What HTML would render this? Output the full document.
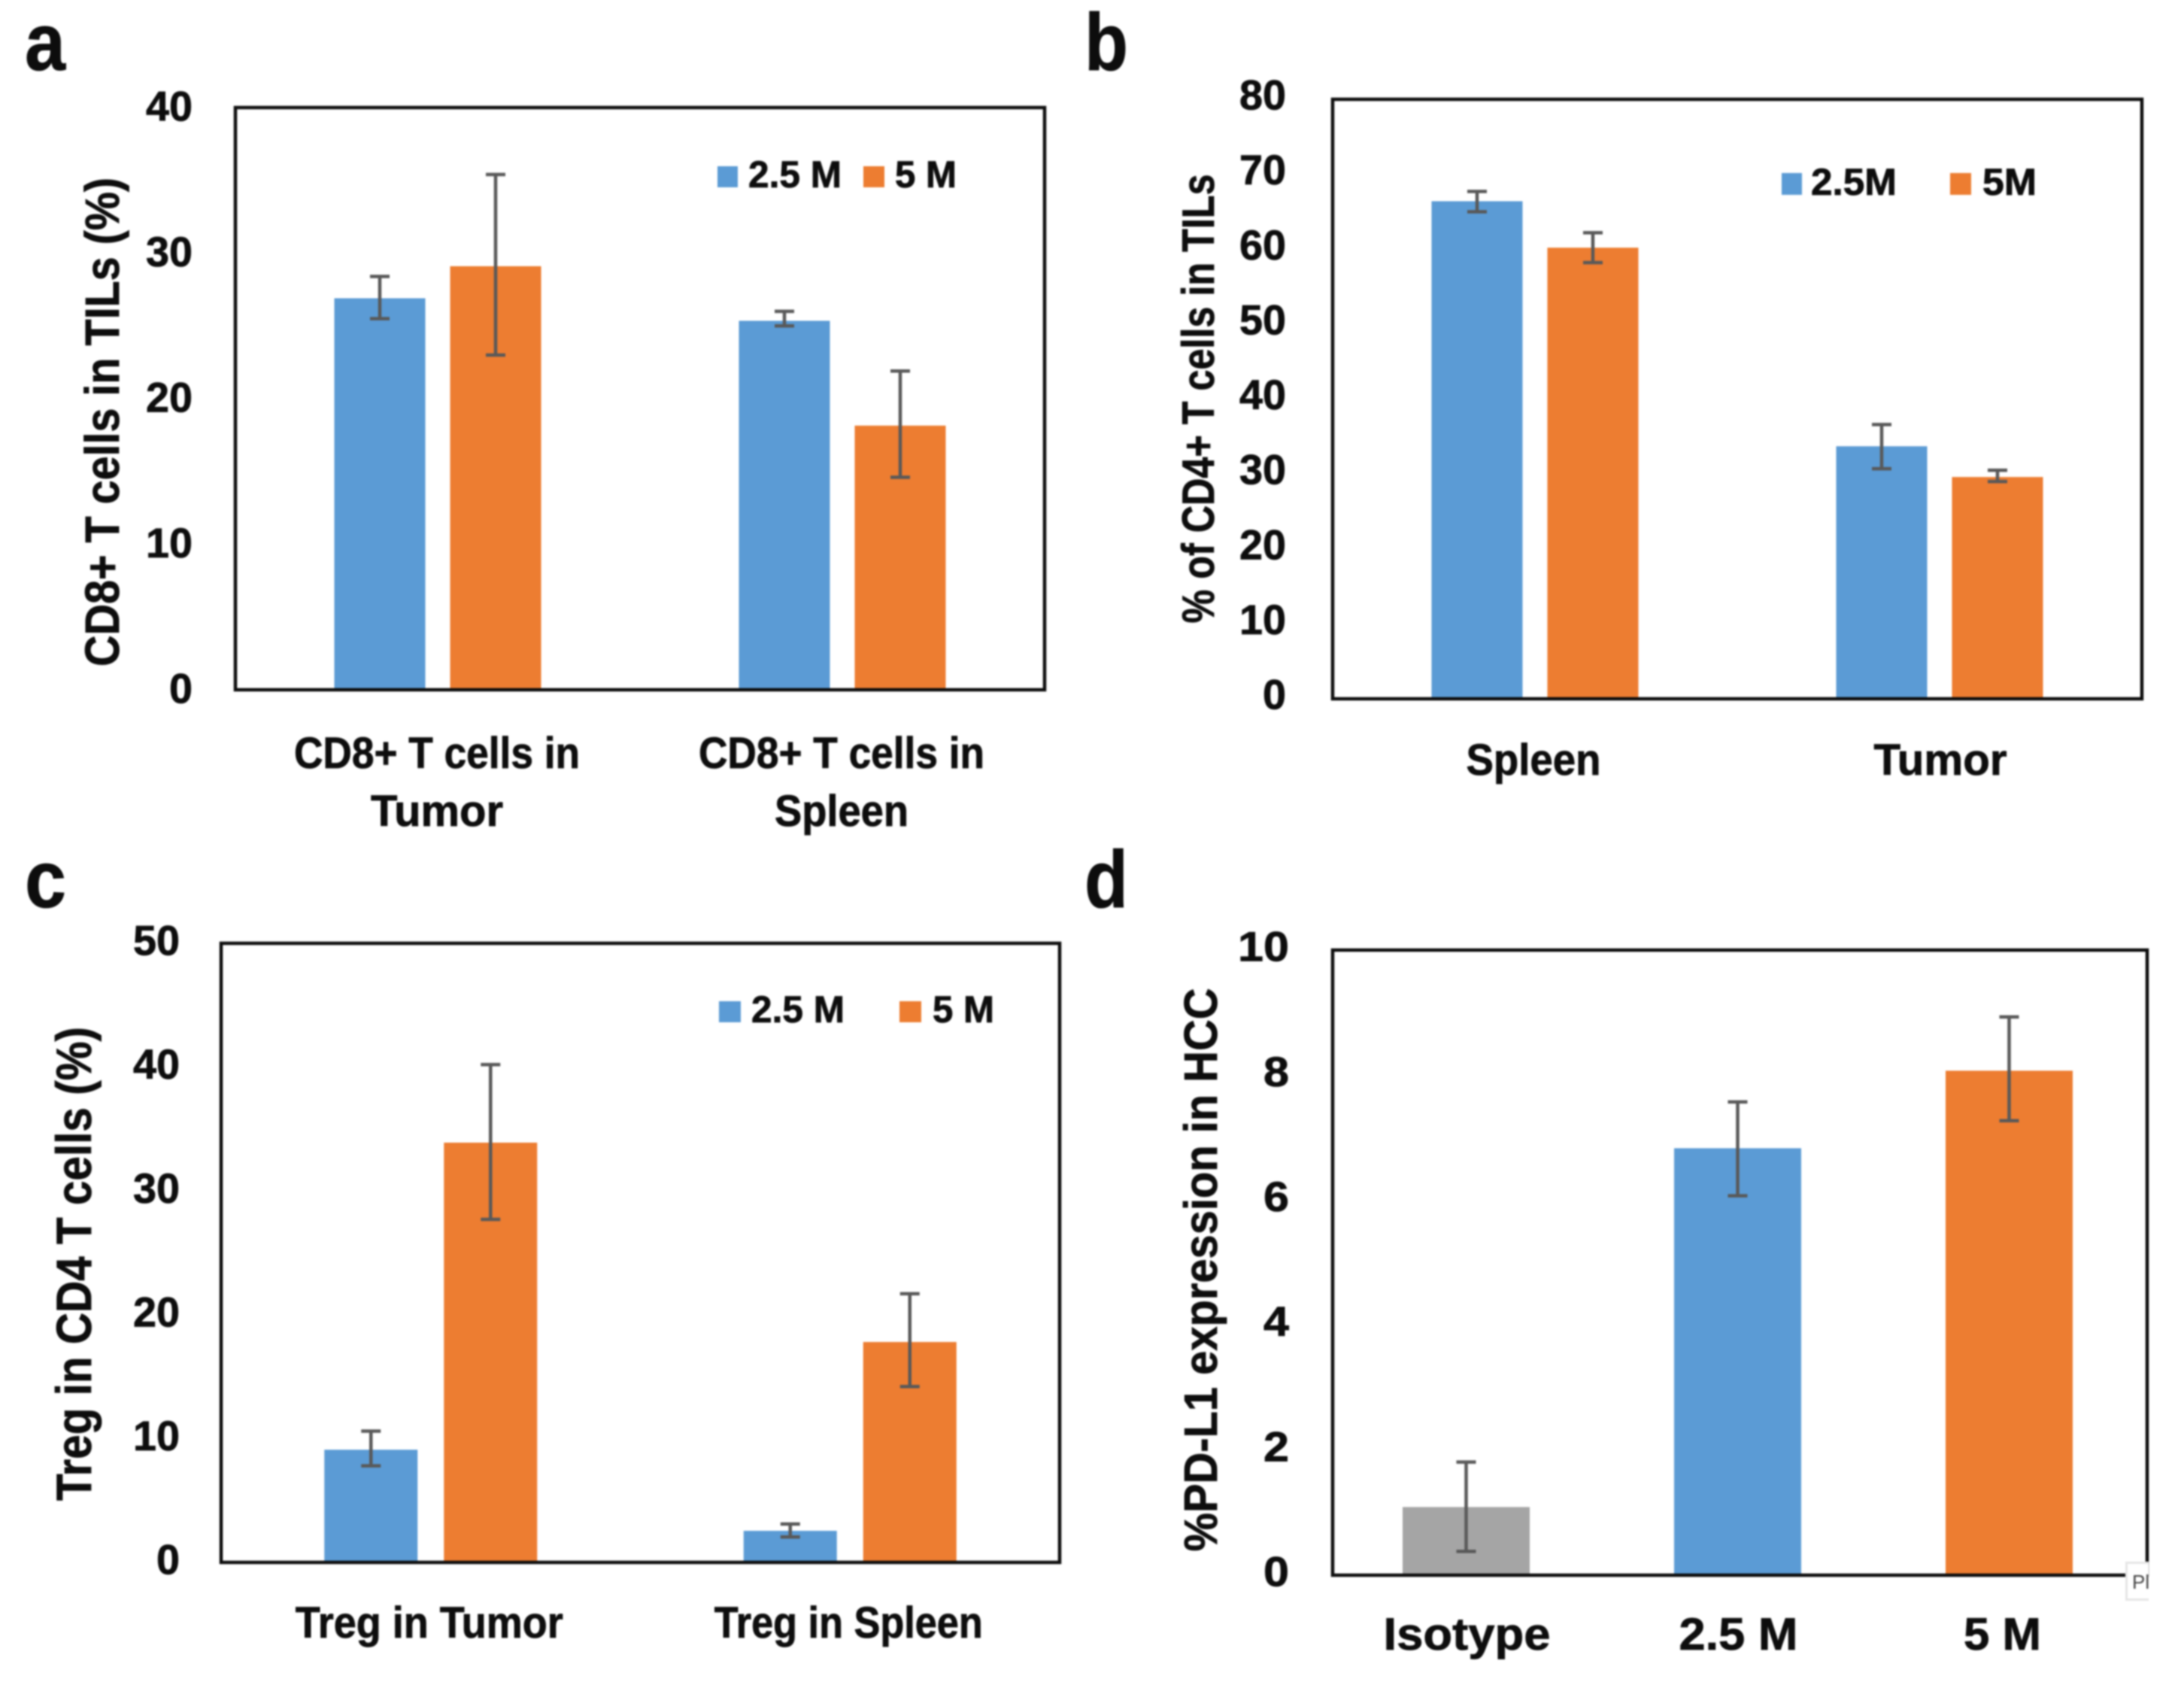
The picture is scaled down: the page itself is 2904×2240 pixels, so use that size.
<!DOCTYPE html>
<html lang="en">
<head>
<meta charset="utf-8">
<title>T cell and PD-L1 bar charts</title>
<style>
html,body{margin:0;padding:0;background:#fff;}
#figure{display:block;width:2904px;height:2240px;background:#fff;filter:blur(1.1px);}
text{font-family:"Liberation Sans",sans-serif;font-weight:700;fill:#0d0d0d;stroke:#0d0d0d;stroke-width:0.8px;}
</style>
</head>
<body>
<svg id="figure" xmlns="http://www.w3.org/2000/svg" width="2904" height="2240" viewBox="0 0 2904 2240"></svg>
<script>
// Panel a data
const aCategories = ["CD8+ T cells in\nTumor", "CD8+ T cells in\nSpleen"];
const aTicks = [0, 10, 20, 30, 40];
const aValues25 = [26.9, 25.35];
const aValues5 = [29.1, 18.15];
const aUpper25 = [28.4, 26.0];
const aLower25 = [25.5, 25.0];
const aUpper5 = [35.4, 21.9];
const aLower5 = [23.0, 14.6];

// Panel b data
const bCategories = ["Spleen", "Tumor"];
const bTicks = [0, 10, 20, 30, 40, 50, 60, 70, 80];
const bValues25 = [66.4, 33.7];
const bValues5 = [60.2, 29.6];
const bUpper25 = [67.7, 36.6];
const bLower25 = [65.0, 30.7];
const bUpper5 = [62.2, 30.5];
const bLower5 = [58.2, 29.0];

// Panel c data
const cCategories = ["Treg in Tumor", "Treg in Spleen"];
const cTicks = [0, 10, 20, 30, 40, 50];
const cValues25 = [9.1, 2.55];
const cValues5 = [33.9, 17.8];
const cUpper25 = [10.6, 3.1];
const cLower25 = [7.8, 2.05];
const cUpper5 = [40.2, 21.7];
const cLower5 = [27.7, 14.2];

// Panel d data
const dCategories = ["Isotype", "2.5 M", "5 M"];
const dTicks = [0, 2, 4, 6, 8, 10];
const dValues = [1.09, 6.83, 8.07];
const dUpper = [1.81, 7.57, 8.93];
const dLower = [0.38, 6.07, 7.27];

const BLUE = "#5B9BD5";
const ORANGE = "#ED7D31";
const GRAY = "#A5A5A5";
const svg = document.getElementById("figure");
const NS = "http://www.w3.org/2000/svg";

function add(tag, attrs, parent) {
  const el = document.createElementNS(NS, tag);
  for (const k in attrs) el.setAttribute(k, attrs[k]);
  (parent || svg).appendChild(el);
  return el;
}
function addText(str, x, y, size, width, anchor, parent) {
  const t = add("text", {x: x, y: y, "font-size": size, "text-anchor": anchor || "middle"}, parent);
  if (width) {
    t.setAttribute("textLength", width);
    t.setAttribute("lengthAdjust", "spacingAndGlyphs");
  }
  t.textContent = str;
  return t;
}

function drawPanel(p) {
  const g = add("g", {});
  
  

  const yAxis = v => p.bottom - (v - p.ticks[0]) / (p.ticks[p.ticks.length - 1] - p.ticks[0]) * (p.bottom - p.top);
  const band = (p.right - p.left) / p.categories.length;
  const xAxis = i => p.left + (i + 0.5) * band;

  const letter = addText(p.id, p.letterX, p.letterY, 108, p.letterW, "start", g);
  
  

  p.series.forEach((s, si) => {
    s.values.forEach((v, i) => {
      const cx = xAxis(i) + p.barDx + (si - (p.series.length - 1) / 2) * (p.barW + p.barGap);
      const color = s.colors ? s.colors[i] : s.color;
      const bar = add("rect", {x: cx - p.barW / 2, y: yAxis(v), width: p.barW, height: yAxis(0) - yAxis(v), fill: color}, g);
      
      

      const err = add("path", {
        d: "M" + cx + " " + yAxis(s.upper[i]) + "V" + yAxis(s.lower[i]) +
           "M" + (cx - 13) + " " + yAxis(s.upper[i]) + "H" + (cx + 13) +
           "M" + (cx - 13) + " " + yAxis(s.lower[i]) + "H" + (cx + 13),
        stroke: "#595959", "stroke-width": 4.5, fill: "none"
      }, g);
      
      
    });
  });

  const frame = add("rect", {x: p.left, y: p.top, width: p.right - p.left, height: p.bottom - p.top, fill: "none", stroke: "#0d0d0d", "stroke-width": 4.5}, g);
  
  

  p.ticks.forEach(v => {
    const label = String(v);
    const t = addText(label, p.tickX, yAxis(v) + p.tickDy + 0.35 * p.tickSize, p.tickSize, label.length * p.tickCharW, "end", g);
    
    
  });

  const yt = addText(p.yTitle, 0, 0, p.yTitleSize, p.yTitleLen, "middle", g);
  yt.setAttribute("transform", "translate(" + p.yTitleX + " " + p.yTitleY + ") rotate(-90)");
  
  

  p.categories.forEach((c, i) => {
    c.split("\n").forEach((line, li) => {
      const t = addText(line, xAxis(i) + p.catDx[i], p.catY + li * p.catLine, p.catSize, p.catWidths[i][li], "middle", g);
      
      
    });
  });

  p.legend.forEach((l, i) => {
    const sw = add("rect", {x: l.x, y: p.legendTop, width: l.w, height: p.legendH, fill: l.color}, g);
    
    
    const t = addText(l.label, l.tx, p.legendTop + p.legendH, 50, l.tw, "start", g);
    
    
  });
}

drawPanel({
  id: "a", left: 313, right: 1389, top: 143, bottom: 917, ticks: aTicks, categories: aCategories,
  barW: 121, barGap: 33, barDx: 0, letterX: 33, letterY: 93, letterW: 54,
  tickX: 256, tickDy: -2, tickSize: 56, tickCharW: 31,
  yTitle: "CD8+ T cells in TILs (%)", yTitleSize: 64, yTitleLen: 650, yTitleX: 158, yTitleY: 561,
  catDx: [-1, -1], catY: 1021, catLine: 77, catSize: 58,
  catWidths: [[380, 176], [380, 178]],
  legendTop: 221, legendH: 28,
  legend: [
    {label: "2.5 M", color: BLUE, x: 954, w: 27, tx: 995, tw: 124},
    {label: "5 M", color: ORANGE, x: 1148, w: 28, tx: 1190, tw: 82}
  ],
  series: [
    {name: "2-5-m", color: BLUE, values: aValues25, upper: aUpper25, lower: aLower25},
    {name: "5-m", color: ORANGE, values: aValues5, upper: aUpper5, lower: aLower5}
  ]
});

drawPanel({
  id: "b", left: 1772, right: 2848, top: 132, bottom: 929, ticks: bTicks, categories: bCategories,
  barW: 121, barGap: 33, barDx: 0, letterX: 1442, letterY: 93, letterW: 58,
  tickX: 1710, tickDy: -6, tickSize: 56, tickCharW: 31,
  yTitle: "% of CD4+ T cells in TILs", yTitleSize: 60, yTitleLen: 597, yTitleX: 1614, yTitleY: 530,
  catDx: [-2, 1], catY: 1030, catLine: 0, catSize: 58,
  catWidths: [[179], [177]],
  legendTop: 230, legendH: 29,
  legend: [
    {label: "2.5M", color: BLUE, x: 2369, w: 27, tx: 2408, tw: 114},
    {label: "5M", color: ORANGE, x: 2593, w: 28, tx: 2636, tw: 72}
  ],
  series: [
    {name: "2-5-m", color: BLUE, values: bValues25, upper: bUpper25, lower: bLower25},
    {name: "5-m", color: ORANGE, values: bValues5, upper: bUpper5, lower: bLower5}
  ]
});

drawPanel({
  id: "c", left: 294, right: 1409, top: 1254, bottom: 2077, ticks: cTicks, categories: cCategories,
  barW: 124, barGap: 35, barDx: 0, letterX: 33, letterY: 1206, letterW: 55,
  tickX: 239, tickDy: -4, tickSize: 56, tickCharW: 31,
  yTitle: "Treg in CD4 T cells (%)", yTitleSize: 66, yTitleLen: 630, yTitleX: 121, yTitleY: 1680,
  catDx: [-2, -2], catY: 2177, catLine: 0, catSize: 58,
  catWidths: [[356], [357]],
  legendTop: 1331, legendH: 28,
  legend: [
    {label: "2.5 M", color: BLUE, x: 956, w: 29, tx: 999, tw: 124},
    {label: "5 M", color: ORANGE, x: 1196, w: 29, tx: 1240, tw: 82}
  ],
  series: [
    {name: "2-5-m", color: BLUE, values: cValues25, upper: cUpper25, lower: cLower25},
    {name: "5-m", color: ORANGE, values: cValues5, upper: cUpper5, lower: cLower5}
  ]
});

drawPanel({
  id: "d", left: 1772, right: 2855, top: 1263, bottom: 2094, ticks: dTicks, categories: dCategories,
  barW: 169, barGap: 0, barDx: -3, letterX: 1442, letterY: 1206, letterW: 58,
  tickX: 1714, tickDy: -5, tickSize: 56, tickCharW: 34,
  yTitle: "%PD-L1 expression in HCC", yTitleSize: 62, yTitleLen: 749, yTitleX: 1618, yTitleY: 1688,
  catDx: [-2, -2, -12], catY: 2193, catLine: 0, catSize: 60,
  catWidths: [[222], [158], [103]],
  legendTop: 0, legendH: 0,
  legend: [],
  series: [
    {name: "mean", colors: [GRAY, BLUE, ORANGE], values: dValues, upper: dUpper, lower: dLower}
  ]
});

// Clipped screenshot tooltip at the lower right of panel d
const tipShadow = add("rect", {x: 2826, y: 2076, width: 31, height: 52, fill: "#e6e6e6"});


const tip = add("rect", {x: 2829, y: 2079, width: 28, height: 46, fill: "#ffffff"});


const tipText = add("text", {x: 2835, y: 2112, "font-size": 26});


tipText.setAttribute("style", "font-weight:400;fill:#444;stroke:none;");
tipText.textContent = "Pl";
</script>
</body>
</html>
